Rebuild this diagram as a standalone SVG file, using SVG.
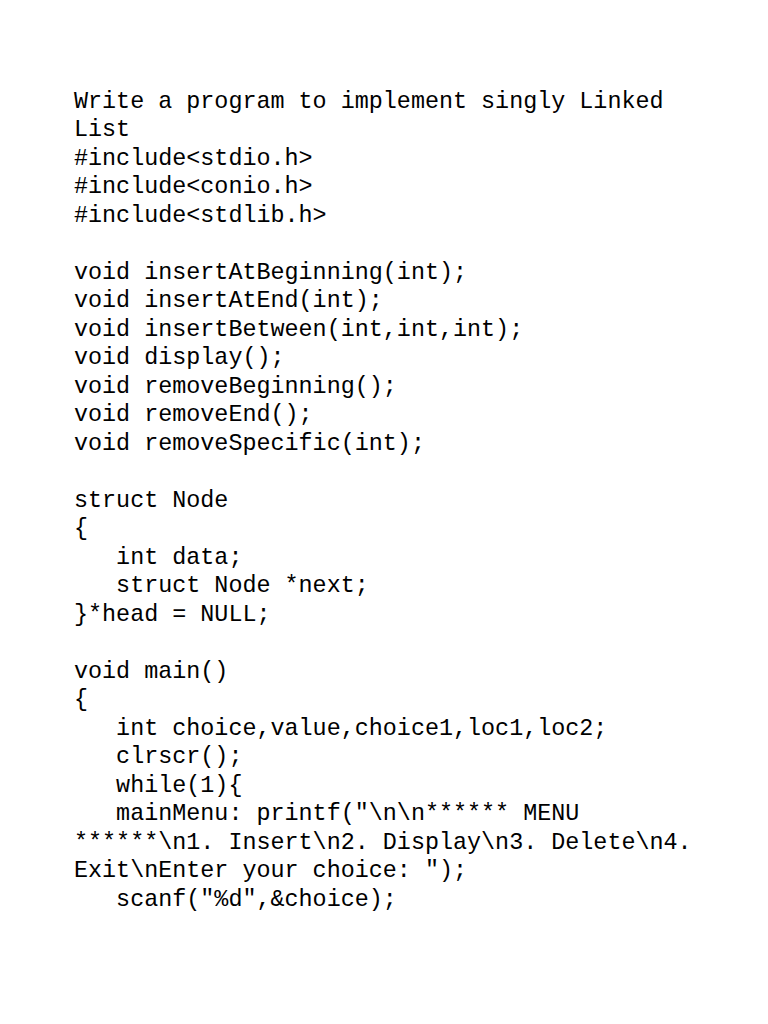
<svg xmlns="http://www.w3.org/2000/svg" width="768" height="1024" viewBox="0 0 768 1024">
<style>text{font-family:"Liberation Mono","DejaVu Sans Mono",monospace;font-size:23.4px;fill:#000;white-space:pre}</style>
<rect width="768" height="1024" fill="#fff"/>
<g xml:space="preserve">
<text x="74" y="108">Write a program to implement singly Linked</text>
<text x="74" y="136">List</text>
<text x="74" y="165">#include&lt;stdio.h&gt;</text>
<text x="74" y="193">#include&lt;conio.h&gt;</text>
<text x="74" y="222">#include&lt;stdlib.h&gt;</text>
<text x="74" y="279">void insertAtBeginning(int);</text>
<text x="74" y="307">void insertAtEnd(int);</text>
<text x="74" y="336">void insertBetween(int,int,int);</text>
<text x="74" y="364">void display();</text>
<text x="74" y="393">void removeBeginning();</text>
<text x="74" y="421">void removeEnd();</text>
<text x="74" y="450">void removeSpecific(int);</text>
<text x="74" y="507">struct Node</text>
<text x="74" y="535">{</text>
<text x="74" y="564">   int data;</text>
<text x="74" y="592">   struct Node *next;</text>
<text x="74" y="621">}*head = NULL;</text>
<text x="74" y="678">void main()</text>
<text x="74" y="706">{</text>
<text x="74" y="735">   int choice,value,choice1,loc1,loc2;</text>
<text x="74" y="763">   clrscr();</text>
<text x="74" y="792">   while(1){</text>
<text x="74" y="820">   mainMenu: printf("\n\n****** MENU</text>
<text x="74" y="849">******\n1. Insert\n2. Display\n3. Delete\n4.</text>
<text x="74" y="877">Exit\nEnter your choice: ");</text>
<text x="74" y="906">   scanf("%d",&amp;choice);</text>
</g>
</svg>
